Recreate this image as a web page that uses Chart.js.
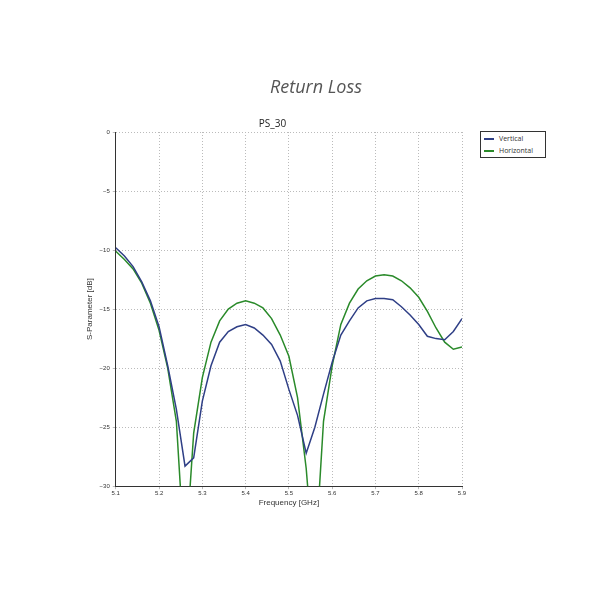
<!DOCTYPE html>
<html><head><script src="https://cdn.jsdelivr.net/npm/chart.js"></script>
<style>body{margin:0;background:#fff;font-family:"Open Sans",sans-serif}
#wrap{position:relative;width:600px;height:600px}
#t{position:absolute;top:74px;left:0;width:632px;text-align:center;font-style:italic;font-size:18px;color:#555}
#lg{position:absolute;left:480px;top:131px;width:64px;height:25px;border:1px solid #333;font-size:7px;color:#333;background:#fff}
#lg div{height:11px;line-height:11px;margin-top:1px}
#lg span{display:inline-block;width:10px;height:1.5px;vertical-align:middle;margin:0 5px 0 3px}
</style></head><body><div id="wrap"><canvas id="c" width="600" height="600"></canvas>
<div id="t">Return Loss</div>
<div id="lg"><div><span style="background:#2f3f86"></span>Vertical</div><div><span style="background:#2a8a2a"></span>Horizontal</div></div></div>
<script>
const vFreq=[5.10,5.12,5.14,5.16,5.18,5.20,5.22,5.24,5.26,5.28,5.30,5.32,5.34,5.36,5.38,5.40,5.42,5.44,5.46,5.48,5.50,5.52,5.54,5.56,5.58,5.60,5.62,5.64,5.66,5.68,5.70,5.72,5.74,5.76,5.78,5.80,5.82,5.84,5.86,5.88,5.90];
const vertical=[-9.8,-10.5,-11.4,-12.7,-14.3,-16.5,-19.8,-23.5,-28.3,-27.6,-22.8,-19.8,-17.8,-16.9,-16.5,-16.3,-16.6,-17.2,-18.0,-19.4,-21.8,-24.0,-27.2,-25.0,-22.2,-19.5,-17.2,-16.0,-14.9,-14.3,-14.1,-14.1,-14.2,-14.8,-15.5,-16.3,-17.3,-17.5,-17.6,-16.9,-15.8];
const hFreq=[5.10,5.12,5.14,5.16,5.18,5.20,5.22,5.24,5.25,5.26,5.27,5.28,5.30,5.32,5.34,5.36,5.38,5.40,5.42,5.44,5.46,5.48,5.50,5.52,5.54,5.55,5.56,5.57,5.58,5.60,5.62,5.64,5.66,5.68,5.70,5.72,5.74,5.76,5.78,5.80,5.82,5.84,5.86,5.88,5.90];
const horizontal=[-10.1,-10.8,-11.6,-12.8,-14.5,-16.8,-20.0,-24.5,-30.5,-36,-31,-25.5,-20.8,-17.8,-16.0,-15.0,-14.5,-14.3,-14.5,-14.9,-15.8,-17.2,-19.0,-22.5,-28.5,-33,-36,-30.5,-24.5,-19.8,-16.3,-14.5,-13.3,-12.6,-12.2,-12.1,-12.2,-12.6,-13.2,-14.0,-15.2,-16.6,-17.8,-18.4,-18.2];
const xTicks=[5.1,5.2,5.3,5.4,5.5,5.6,5.7,5.8,5.9];
const yTicks=[0,-5,-10,-15,-20,-25,-30];
const pts=(xs,ys)=>xs.map((x,i)=>({x,y:ys[i]}));
new Chart(document.getElementById('c'),{type:'line',
data:{datasets:[
{label:'Vertical',data:pts(vFreq,vertical),borderColor:'#2f3f86',borderWidth:1.5,pointRadius:0,tension:0},
{label:'Horizontal',data:pts(hFreq,horizontal),borderColor:'#2a8a2a',borderWidth:1.5,pointRadius:0,tension:0}]},
options:{responsive:false,animation:false,
layout:{padding:{left:83,right:138,top:118,bottom:92}},
plugins:{legend:{display:false},title:{display:true,text:'PS_30',color:'#222',font:{size:10,family:'Open Sans',weight:'normal'},padding:{top:0,bottom:2}}},
scales:{
x:{type:'linear',min:5.1,max:5.9,afterBuildTicks:a=>{a.ticks=xTicks.map(v=>({value:v}))},
ticks:{color:'#333',font:{size:6},padding:1,callback:v=>v.toFixed(1)},
grid:{color:'#bbb',tickLength:3},border:{color:'#333',dash:[1,2]},
title:{display:true,text:'Frequency [GHz]',color:'#333',font:{size:8},padding:0}},
y:{min:-30,max:0,afterBuildTicks:a=>{a.ticks=yTicks.map(v=>({value:v}))},
ticks:{color:'#333',font:{size:6},padding:3,callback:v=>v<0?'\u2212'+Math.abs(v):String(v)},
grid:{color:'#bbb',tickLength:3},border:{color:'#333',dash:[1,2]},
title:{display:true,text:'S-Parameter [dB]',color:'#333',font:{size:8},padding:2}}}}});
</script></body></html>
